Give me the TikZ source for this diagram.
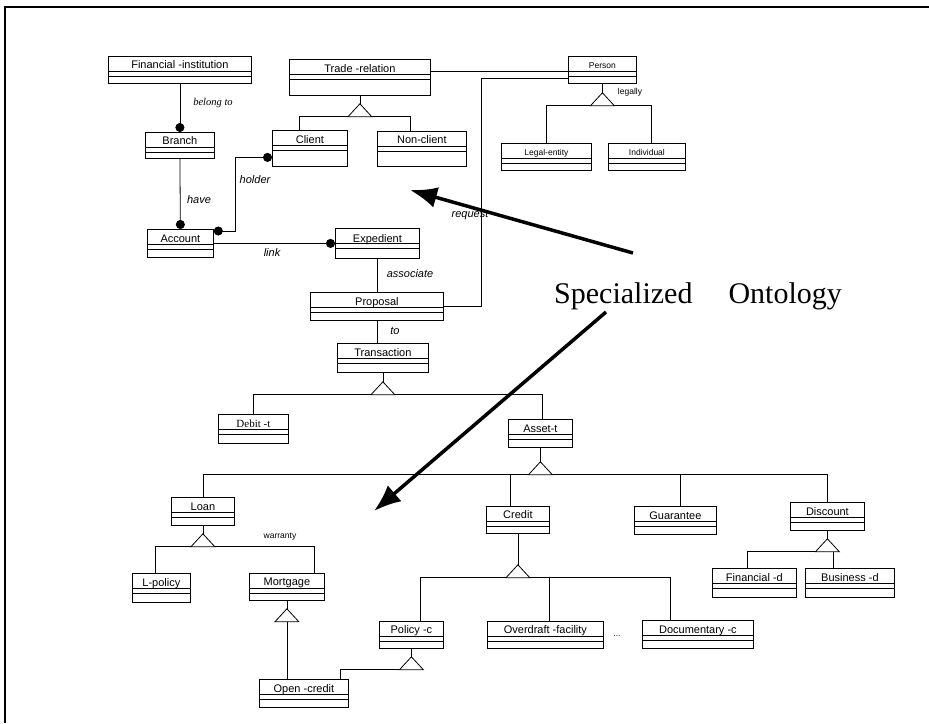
\documentclass[tikz,border=0pt]{standalone}
\usepackage{fontspec}
\setmainfont{Liberation Serif}
\setsansfont{Liberation Sans}
\usetikzlibrary{positioning,arrows.meta}

\begin{document}
\begin{tikzpicture}[x=1pt, y=-1pt,
    cls/.style    = {draw, rectangle, anchor=north west, inner sep=0pt, line width=0.8pt,
                     minimum height=28pt, text height=11pt, text depth=13pt,
                     font=\sffamily\fontsize{11}{13}\selectfont,
                     path picture={\draw[line width=0.8pt]
                        ([yshift=-15pt]path picture bounding box.north west) -- ([yshift=-15pt]path picture bounding box.north east)
                        ([yshift=-20pt]path picture bounding box.north west) -- ([yshift=-20pt]path picture bounding box.north east);}},
    tall/.style   = {minimum height=36pt, text depth=21pt},
    small/.style  = {font=\sffamily\fontsize{8.5}{10}\selectfont},
    serif/.style  = {font=\rmfamily\fontsize{11}{13}\selectfont},
    assoc/.style  = {-, line width=0.8pt},
    dot/.style    = {assoc, -{Circle[length=9pt]}},
    gen/.style    = {line width=0.8pt, fill=white},
    role/.style   = {font=\sffamily\itshape\fontsize{11}{13}\selectfont, inner sep=0pt},
    note/.style   = {font=\sffamily\fontsize{8.5}{10}\selectfont, inner sep=0pt},
    big/.style    = {line width=3.5pt, -{Latex[length=27pt,width=21pt]}},
]
\useasboundingbox (0,0) rectangle (929,723);

% --- frame ---
\draw[line width=2pt] (5,723) -- (5,7) -- (929,7);

% --- classes, upper part ---
\node[cls, minimum width=143pt, minimum height=27pt] (fin) at (108,56) {Financial -institution};
\node[cls, minimum width=69pt, minimum height=26pt] (branch) at (145,132) {Branch};
\node[cls, minimum width=66pt] (account) at (147,229) {Account};
\node[cls, tall, minimum width=141pt] (trade) at (289,59) {Trade -relation};
\node[cls, tall, minimum width=75pt] (client) at (272,130) {Client};
\node[cls, tall, minimum width=89pt, minimum height=35pt] (nonclient) at (377,131) {Non-client};
\node[cls, small, minimum width=68pt, minimum height=27pt] (person) at (568,56) {Person};
\node[cls, small, minimum width=90pt, minimum height=27pt] (legal) at (501,143) {Legal-entity};
\node[cls, small, minimum width=77pt, minimum height=27pt] (indiv) at (608,143) {Individual};
\node[cls, minimum width=84pt, minimum height=30pt] (exped) at (335,228) {Expedient};
\node[cls, minimum width=133pt] (proposal) at (310,292) {Proposal};
\node[cls, minimum width=91pt, minimum height=29pt] (trans) at (337,343) {Transaction};
\node[cls, serif, minimum width=70pt, minimum height=29pt] (debit) at (218,414) {Debit -t};
\node[cls, minimum width=64pt] (asset) at (508,419) {Asset-t};

% --- classes, lower part ---
\node[cls, minimum width=63pt] (loan) at (171,497) {Loan};
\node[cls, minimum width=58pt, minimum height=29pt] (lpolicy) at (132,573) {L-policy};
\node[cls, minimum width=75pt, minimum height=27pt] (mortgage) at (249,573) {Mortgage};
\node[cls, minimum width=89pt] (openc) at (259,679) {Open -credit};
\node[cls, minimum width=63pt, minimum height=27pt] (credit) at (486,506) {Credit};
\node[cls, minimum width=64pt, minimum height=27pt] (policyc) at (379,621) {Policy -c};
\node[cls, minimum width=116pt, minimum height=27pt] (overdraft) at (487,621) {Overdraft -facility};
\node[cls, minimum width=111pt] (docum) at (642,620) {Documentary -c};
\node[cls, minimum width=82pt] (guarantee) at (634,506) {Guarantee};
\node[cls, minimum width=74pt] (discount) at (790,502) {Discount};
\node[cls, minimum width=84pt, minimum height=29pt] (findisc) at (712,568) {Financial -d};
\node[cls, minimum width=89pt, minimum height=29pt] (busdisc) at (805,568) {Business -d};

% --- triangle apexes and base mids ---
\coordinate (g1) at ([yshift=-8pt]trade.south);      \coordinate (g1b) at ([yshift=-13pt]g1);
\coordinate (g2) at ([yshift=-9pt]person.south);     \coordinate (g2b) at ([yshift=-13pt]g2);
\coordinate (g3) at ([yshift=-9pt]trans.south);      \coordinate (g3b) at ([yshift=-13pt]g3);
\coordinate (g4) at ([yshift=-14pt]asset.south);     \coordinate (g4b) at ([yshift=-13pt]g4);
\coordinate (g5) at ([yshift=-8pt]loan.south);       \coordinate (g5b) at ([yshift=-13pt]g5);
\coordinate (g6) at ([yshift=-8pt]mortgage.south);   \coordinate (g6b) at ([yshift=-13pt]g6);
\coordinate (g7) at ([yshift=-31pt]credit.south);    \coordinate (g7b) at ([yshift=-13pt]g7);
\coordinate (g8) at ([yshift=-8pt]policyc.south);    \coordinate (g8b) at ([yshift=-13pt]g8);
\coordinate (g9) at ([yshift=-8pt]discount.south);   \coordinate (g9b) at ([yshift=-13pt]g9);

% --- generalisations ---
\draw[assoc] (trade.south) -- (g1);
\draw[assoc] ([xshift=-11pt]client.north) |- (g1b) -| ([xshift=-12pt]nonclient.north);
\draw[assoc] (person.south) -- (g2);
\draw[assoc] (legal.north) |- (g2b) -| ([xshift=4.5pt]indiv.north);
\draw[assoc] (trans.south) -- (g3);
\draw[assoc] (debit.north) |- (g3b) -| ([xshift=2pt]asset.north);
\draw[assoc] (asset.south) -- (g4);
\draw[assoc] (loan.north) |- (g4b) -| (discount.north);
\draw[assoc] ([xshift=-7.5pt]credit.north) |- (g4b);
\draw[assoc] ([xshift=5pt]guarantee.north) |- (g4b);
\draw[assoc] (loan.south) -- (g5);
\draw[assoc] ([xshift=-6pt]lpolicy.north) |- (g5b) -| ([xshift=-10pt]mortgage.north east);
\draw[assoc] (mortgage.south) -- (g6);
\draw[assoc] (g6b) -- (g6b |- openc.north);
\draw[assoc] (credit.south) -- (g7);
\draw[assoc] ([xshift=9pt]policyc.north) |- (g7b) -| ([xshift=28pt]docum.north west);
\draw[assoc] ([xshift=4pt]overdraft.north) |- (g7b);
\draw[assoc] (policyc.south) -- (g8);
\draw[assoc] ([xshift=-12pt]g8b) -| ([xshift=-8pt]openc.north east);
\draw[assoc] (discount.south) -- (g9);
\draw[assoc] ([xshift=-7pt]findisc.north) |- (g9b) -| ([xshift=28pt]busdisc.north west);

\foreach \g in {g1,g2,g3,g4,g5,g6,g7,g8,g9}
    \draw[gen] (\g) -- ++(-12,13) -- ++(24,0) -- cycle;

% --- associations ---
\draw[dot] (fin.south) -- (branch.north);
\draw[dot] (branch.south) -- (account.north);
\draw[assoc, {Circle[length=9pt]}-{Circle[length=9pt]}] ([yshift=-2pt]account.north east) -- ++(22,0) |- ([yshift=-9pt]client.west);
\draw[dot] (account.east) -- (exped.west);
\draw[assoc] (exped.south) -- (exped.south |- proposal.north);
\draw[assoc] (proposal.south) -- (proposal.south |- trans.north);
\draw[assoc] ([yshift=-12pt]trade.north east) -- ([yshift=-15pt]person.north west);
\draw[assoc] ([yshift=-22pt]person.north west) -| ([xshift=38pt]proposal.east) -- (proposal.east);

% --- role names ---
\node[role, font=\rmfamily\itshape\fontsize{10.5}{12}\selectfont] (lbelong) at (213,103) {belong to};
\node[role] (lhave) at (199,200) {have};
\node[role] (lholder) at (255,180) {holder};
\node[role] (llink) at (272,253) {link};
\node[role] (lassoc) at (410,274) {associate};
\node[role] (lto) at (395,331) {to};
\node[role] (lrequest) at (470,215) {request};
\node[note] (llegally) at (630,92) {legally};
\node[note] (lwarranty) at (280,537) {warranty};
\node[note] (ldots) at (617,636) {...};

% --- callout ---
\node[font=\rmfamily\fontsize{30}{36}\selectfont, anchor=base west, inner sep=0pt] (spec) at (554,303) {Specialized\hspace{36pt}Ontology};
\coordinate (tipa) at (410,190);
\coordinate (tipb) at (374,511);
\draw[big] ([xshift=79pt,yshift=50pt]spec.base west) -- (tipa);
\draw[big] ([xshift=52pt,yshift=-9pt]spec.base west) -- (tipb);

\end{tikzpicture}
\end{document}
